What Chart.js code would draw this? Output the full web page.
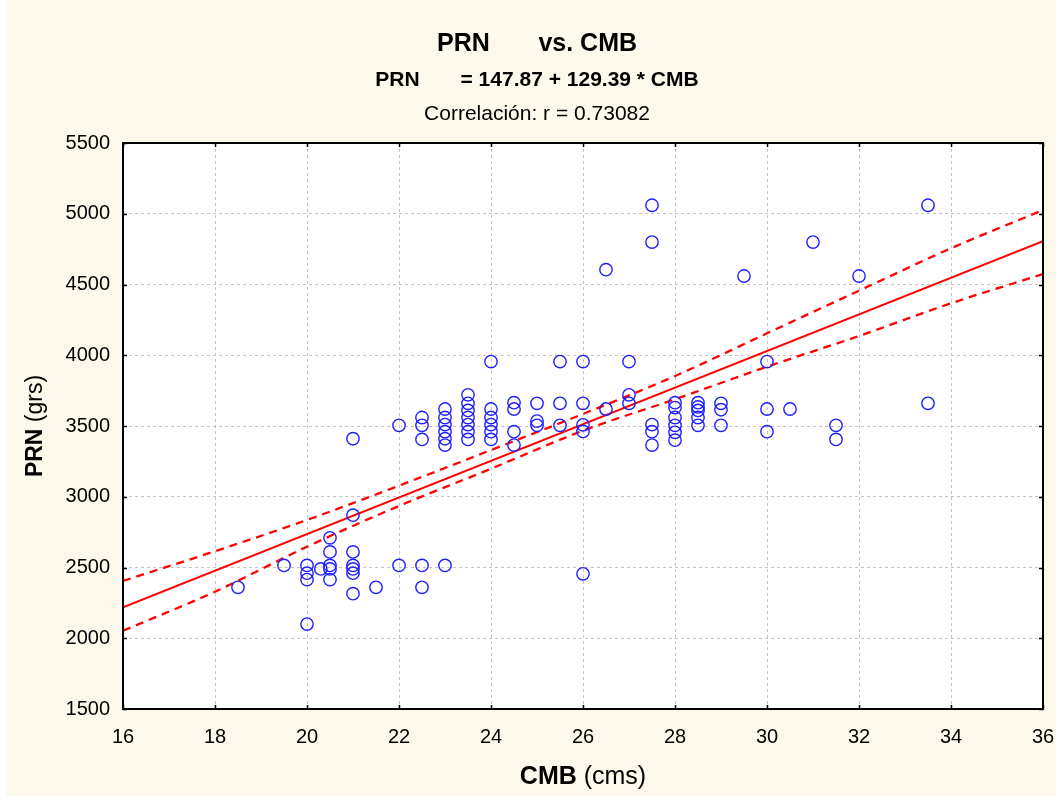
<!DOCTYPE html>
<html>
<head>
<meta charset="utf-8">
<script src="https://cdn.jsdelivr.net/npm/chart.js@4.4.1/dist/chart.umd.min.js"></script>
<style>
html,body{margin:0;padding:0;background:#ffffff;}
#wrap{position:absolute;left:0;top:0;width:1056px;height:796px;}
</style>
</head>
<body>
<div id="wrap"><canvas id="c" width="1056" height="796"></canvas></div>
<script>
// ---- data ----
const xTicks = [16, 18, 20, 22, 24, 26, 28, 30, 32, 34, 36];
const yTicks = [1500, 2000, 2500, 3000, 3500, 4000, 4500, 5000, 5500];

const cmbValues = [
  18.5, 19.5,
  20, 20, 20, 20,
  20.3,
  20.5, 20.5, 20.5, 20.5, 20.5,
  21, 21, 21, 21, 21, 21, 21,
  21.5,
  22, 22,
  22.5, 22.5, 22.5, 22.5, 22.5,
  23, 23, 23, 23, 23, 23, 23,
  23.5, 23.5, 23.5, 23.5, 23.5, 23.5, 23.5,
  24, 24, 24, 24, 24, 24,
  24.5, 24.5, 24.5, 24.5,
  25, 25, 25,
  25.5, 25.5, 25.5,
  26, 26, 26, 26, 26,
  26.5, 26.5,
  27, 27, 27,
  27.5, 27.5, 27.5, 27.5, 27.5,
  28, 28, 28, 28, 28, 28,
  28.5, 28.5, 28.5, 28.5, 28.5,
  29, 29, 29,
  29.5,
  30, 30, 30,
  30.5,
  31,
  31.5, 31.5,
  32,
  33.5, 33.5
];
const prnValues = [
  2360, 2515,
  2515, 2460, 2415, 2100,
  2490,
  2710, 2610, 2515, 2490, 2415,
  2870, 2610, 2515, 2490, 2460, 2315, 3410,
  2360,
  2515, 3505,
  2515, 2360, 3560, 3505, 3405,
  2515, 3620, 3560, 3510, 3460, 3410, 3365,
  3720, 3660, 3610, 3560, 3510, 3460, 3405,
  3955, 3620, 3560, 3510, 3460, 3405,
  3665, 3620, 3460, 3365,
  3660, 3535, 3505,
  3955, 3660, 3505,
  3955, 3660, 3508, 3462, 2455,
  4605, 3620,
  3955, 3720, 3660,
  5060, 4800, 3510, 3460, 3365,
  3665, 3630, 3560, 3505, 3455, 3400,
  3665, 3635, 3610, 3560, 3505,
  3660, 3615, 3505,
  4560,
  3955, 3620, 3460,
  3620,
  4800,
  3505, 3405,
  4560,
  5060, 3660
];

// regression line PRN = 147.87 + 129.39 * CMB, end points
const fitX = [16, 36];
const fitY = [2218, 4806];

// 95% confidence band
const bandX = [16, 18, 20, 22, 24, 26, 28, 30, 32, 34, 36];
const bandUpper = [2405, 2615, 2836, 3078, 3330, 3585, 3853, 4155, 4456, 4756, 5026];
const bandLower = [2053, 2329, 2647, 2935, 3198, 3467, 3689, 3919, 4136, 4367, 4574];

const titleLine1 = "PRN       vs. CMB";
const titleLine2 = "PRN       = 147.87 + 129.39 * CMB";
const titleLine3 = "Correlación: r = 0.73082";
const xTitleParts = ["CMB", " (cms)"];
const yTitleParts = ["PRN", " (grs)"];

// ---- build ----
const FONT = '"Liberation Sans", Arial, sans-serif';
const pts = cmbValues.map((v, i) => ({x: v, y: prnValues[i]}));
const fitPts = fitX.map((v, i) => ({x: v, y: fitY[i]}));
const upPts = bandX.map((v, i) => ({x: v, y: bandUpper[i]}));
const loPts = bandX.map((v, i) => ({x: v, y: bandLower[i]}));

function drawMixed(ctx, parts, cx, cy, size) {
  const fonts = ['bold ' + size + 'px ' + FONT, size + 'px ' + FONT];
  const widths = parts.map((p, i) => { ctx.font = fonts[i]; return ctx.measureText(p).width; });
  const total = widths.reduce((a, b) => a + b, 0);
  let x = cx - total / 2;
  ctx.textAlign = 'left';
  ctx.textBaseline = 'middle';
  parts.forEach((p, i) => { ctx.font = fonts[i]; ctx.fillText(p, x, cy); x += widths[i]; });
}

const decor = {
  id: 'decor',
  beforeDraw(chart) {
    const ctx = chart.ctx, a = chart.chartArea;
    ctx.save();
    ctx.fillStyle = '#ffffff';
    ctx.fillRect(0, 0, chart.width, chart.height);
    ctx.fillStyle = '#fdf8ec';
    ctx.fillRect(6, 0, chart.width - 6, chart.height);
    ctx.fillStyle = '#ffffff';
    ctx.fillRect(a.left, a.top, a.right - a.left, a.bottom - a.top);
    ctx.restore();
  },
  afterDraw(chart) {
    const ctx = chart.ctx, a = chart.chartArea;
    const xs = chart.scales.x, ys = chart.scales.y;
    ctx.save();
    ctx.strokeStyle = '#000';
    ctx.lineWidth = 2;
    ctx.strokeRect(a.left, a.top, a.right - a.left, a.bottom - a.top);
    ctx.lineWidth = 1.5;
    ctx.beginPath();
    xTicks.forEach(v => {
      const p = Math.round(xs.getPixelForValue(v)) + 0.5;
      ctx.moveTo(p, a.bottom); ctx.lineTo(p, a.bottom - 4);
      ctx.moveTo(p, a.top); ctx.lineTo(p, a.top + 4);
    });
    yTicks.forEach(v => {
      const p = Math.round(ys.getPixelForValue(v)) + 0.5;
      ctx.moveTo(a.left, p); ctx.lineTo(a.left + 4, p);
      ctx.moveTo(a.right, p); ctx.lineTo(a.right - 4, p);
    });
    ctx.stroke();
    ctx.fillStyle = '#000';
    ctx.textAlign = 'center';
    ctx.textBaseline = 'middle';
    ctx.font = 'bold 25px ' + FONT;
    ctx.fillText(titleLine1, 537, 44);
    ctx.font = 'bold 21px ' + FONT;
    ctx.fillText(titleLine2, 537, 80);
    ctx.font = '21px ' + FONT;
    ctx.fillText(titleLine3, 537, 114);
    drawMixed(ctx, xTitleParts, (a.left + a.right) / 2, 777, 25);
    ctx.translate(36, (a.top + a.bottom) / 2);
    ctx.rotate(-Math.PI / 2);
    drawMixed(ctx, yTitleParts, 0, 0, 23);
    ctx.restore();
  }
};

new Chart(document.getElementById('c'), {
  type: 'scatter',
  data: {
    datasets: [
      {
        label: 'PRN', data: pts, showLine: false,
        pointStyle: 'circle', pointRadius: 6.2, pointHoverRadius: 6.2,
        borderColor: 'rgb(30,30,255)', backgroundColor: 'rgba(0,0,0,0)', borderWidth: 1.4
      },
      {
        label: 'fit', data: fitPts, showLine: true, pointRadius: 0,
        borderColor: '#ff0000', borderWidth: 2
      },
      {
        label: 'upper', data: upPts, showLine: true, pointRadius: 0,
        borderColor: '#ff0000', borderWidth: 2.3, borderDash: [8, 6],
        cubicInterpolationMode: 'monotone'
      },
      {
        label: 'lower', data: loPts, showLine: true, pointRadius: 0,
        borderColor: '#ff0000', borderWidth: 2.3, borderDash: [8, 6],
        cubicInterpolationMode: 'monotone'
      }
    ]
  },
  options: {
    responsive: false,
    animation: false,
    devicePixelRatio: 1,
    layout: {padding: {top: 143, right: 13, left: 0, bottom: 0}},
    plugins: {legend: {display: false}, tooltip: {enabled: false}, title: {display: false}},
    scales: {
      x: {
        type: 'linear', min: 16, max: 36,
        afterBuildTicks: s => { s.ticks = xTicks.map(v => ({value: v})); },
        afterFit: s => { s.height = 87; s.paddingLeft = 0; s.paddingRight = 0; },
        grid: {color: '#c4c4c4', lineWidth: 1, drawTicks: false},
        border: {display: false, dash: [3, 3]},
        ticks: {color: '#000', font: {family: FONT, size: 20}, padding: 16, maxRotation: 0,
                callback: v => String(v)}
      },
      y: {
        type: 'linear', min: 1500, max: 5500,
        afterBuildTicks: s => { s.ticks = yTicks.map(v => ({value: v})); },
        afterFit: s => { s.width = 123; s.paddingTop = 0; s.paddingBottom = 0; },
        grid: {color: '#c4c4c4', lineWidth: 1, drawTicks: false},
        border: {display: false, dash: [3, 3]},
        ticks: {color: '#000', font: {family: FONT, size: 20}, padding: 13,
                callback: v => String(v)}
      }
    }
  },
  plugins: [decor]
});
</script>
</body>
</html>
